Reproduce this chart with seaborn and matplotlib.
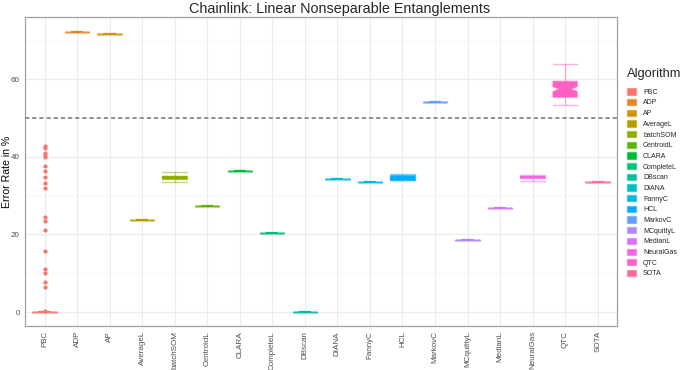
import numpy as np
import pandas as pd
import matplotlib
matplotlib.use("Agg")
import matplotlib.pyplot as plt
import seaborn as sns
from matplotlib.colors import to_rgba
from matplotlib.patches import Patch
from matplotlib.ticker import MultipleLocator

# error rates per algorithm
algorithms = ["PBC", "ADP", "AP", "AverageL", "batchSOM", "CentroidL", "CLARA",
              "CompleteL", "DBscan", "DIANA", "FannyC", "HCL", "MarkovC",
              "MCquittyL", "MedianL", "NeuralGas", "QTC", "SOTA"]

pbc = [0.0] * 70 + [0.3, 6.5, 7.8, 10.0, 11.1, 15.7, 21.2, 23.6, 24.6, 32.0,
                    33.2, 34.9, 36.5, 37.7, 40.0, 40.5, 40.9, 42.4, 42.9]
adp = [72.3, 72.3, 72.3]
ap = [71.7, 71.7, 71.7]
average_l = [23.8, 23.8, 23.8]
batch_som = [33.5, 34.2, 34.4, 34.8, 34.8, 35.1, 35.2, 36.0]
centroid_l = [27.4, 27.4, 27.4]
clara = [36.3, 36.3, 36.3]
complete_l = [20.3, 20.3, 20.3]
dbscan = [0.0, 0.0, 0.0]
diana = [34.4, 34.4, 34.4]
fanny_c = [33.6, 33.6, 33.6]
hcl = [34.0, 34.0, 34.2, 34.5, 34.8, 35.3, 35.5, 35.5]
markov_c = [54.2, 54.2, 54.2]
mcquitty_l = [18.6, 18.6, 18.6]
median_l = [26.9, 26.9, 26.9]
neural_gas = [33.8, 34.3, 34.6, 34.8, 34.9, 35.1, 35.4]
# QTC: 100 runs, given as value levels and how often each occurs
qtc_levels = [53.5, 54.5, 55.0, 55.4, 56.5, 57.2, 57.5, 57.8, 58.6, 59.5, 61.0, 62.5, 63.9]
qtc_counts = [2, 8, 10, 10, 10, 9, 2, 8, 10, 10, 12, 7, 2]
qtc = list(np.repeat(qtc_levels, qtc_counts))
sota = [33.6, 33.6, 33.6]

values = [pbc, adp, ap, average_l, batch_som, centroid_l, clara, complete_l,
          dbscan, diana, fanny_c, hcl, markov_c, mcquitty_l, median_l,
          neural_gas, qtc, sota]

df = pd.DataFrame({
    "Algorithm": np.repeat(algorithms, [len(v) for v in values]),
    "Error": np.concatenate(values),
})

# ggplot hue palette, 18 levels
colors = ["#F8766D", "#E88526", "#D39200", "#B79F00", "#93AA00", "#5EB300",
          "#00BA38", "#00BF74", "#00C19F", "#00BFC4", "#00B9E3", "#00ADFA",
          "#619CFF", "#AE87FF", "#DB72FB", "#F564E3", "#FF61C3", "#FF699C"]
pal = dict(zip(algorithms, colors))
# boxes whose notches would fold outside the hinges are drawn plain
no_notch = ["batchSOM", "HCL", "NeuralGas"]

sns.set_style("white")
plt.rcParams["font.family"] = ["Liberation Sans", "DejaVu Sans"]

fig = plt.figure(figsize=(6.85, 3.7), dpi=100)
ax = fig.add_axes([0.0365, 0.119, 0.8645, 0.834])

box_w = 0.75
for name in algorithms:
    c = pal[name]
    n_before = len(ax.lines)
    sns.boxplot(data=df[df["Algorithm"] == name], x="Algorithm", y="Error",
                order=algorithms, color=c, saturation=1, notch=name not in no_notch,
                width=box_w, whis=1.5, linewidth=1.0,
                flierprops=dict(marker="o", markersize=3, markeredgewidth=0),
                ax=ax, zorder=3)
    ax.patches[-1].set_facecolor(c)
    ax.patches[-1].set_edgecolor(to_rgba(c, 0.5))
    new = ax.lines[n_before:]
    for j, ln in enumerate(new):
        ln.set_color(to_rgba(c, 0.5))
        ln.set_markerfacecolor(c)
        ln.set_markeredgecolor(c)
        if j in (2, 3):
            xc = np.mean(ln.get_xdata())
            ln.set_xdata([xc - box_w / 2, xc + box_w / 2])
        if j == 4:
            ln.set_color(c)
            ln.set_linewidth(1.6)

ax.axhline(50, color="#7F7F7F", linestyle=(0, (2.5, 1.8)), linewidth=1.2, zorder=4)

ax.set_xlim(-0.6, len(algorithms) - 0.4)
ax.set_ylim(-3.6, 76.0)
ax.yaxis.set_major_locator(MultipleLocator(20))
ax.yaxis.set_minor_locator(MultipleLocator(10))
ax.grid(True, which="major", color="#EBEBEB", linewidth=0.8, zorder=0)
ax.grid(True, which="minor", axis="y", color="#F3F3F3", linewidth=0.5, zorder=0)
ax.set_axisbelow(True)
for s in ax.spines.values():
    s.set_color("#A0A0A0")
    s.set_linewidth(0.9)

ax.set_xlabel("")
ax.set_ylabel("Error Rate in %", fontsize=7.6, color="black")
ax.yaxis.set_label_coords(-0.022, 0.5)
fig.text(0.496, 0.977, "Chainlink: Linear Nonseparable Entanglements",
         fontsize=10.4, ha="center", va="center")
ax.tick_params(axis="both", which="major", labelsize=5.8, labelcolor="#4D4D4D",
               color="#333333", length=2.5, width=0.6, pad=1.2)
ax.tick_params(axis="y", which="minor", length=0)
plt.setp(ax.get_xticklabels(), rotation=90)

handles = [Patch(facecolor=pal[a], edgecolor=to_rgba(pal[a], 0.5), label=a)
           for a in algorithms]
leg = ax.legend(handles=handles, loc="upper left", bbox_to_anchor=(1.012, 0.845),
                frameon=False, title="Algorithm", fontsize=5, title_fontsize=9.3,
                labelspacing=0.46, handlelength=1.3, handleheight=1.0,
                handletextpad=1.0, borderaxespad=0)
leg._legend_box.align = "left"
leg._legend_box.sep = 6

fig.savefig("out.png", dpi=100)
